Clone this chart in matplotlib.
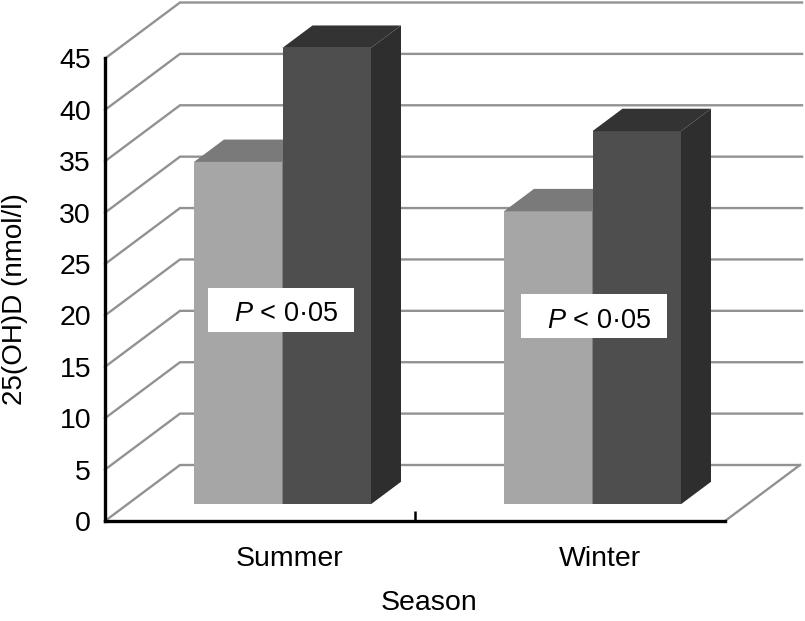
import matplotlib
matplotlib.use("Agg")
import matplotlib.pyplot as plt
from matplotlib.patches import Polygon, Rectangle

plt.rcParams['font.family'] = ['Liberation Sans', 'DejaVu Sans']
plt.rcParams['mathtext.fontset'] = 'custom'
plt.rcParams['mathtext.it'] = 'Liberation Sans:italic'
plt.rcParams['mathtext.rm'] = 'Liberation Sans'

categories = ['Summer', 'Winter']
light_values = [33.3, 28.5]
dark_values = [44.4, 36.3]
y_ticks = [0, 5, 10, 15, 20, 25, 30, 35, 40, 45]
x_label = 'Season'
y_label = '25(OH)D (nmol/l)'
note = r'$\mathit{P}$ < 0·05'

W, H = 805, 621
AX_L, AX_R, AX_B, AX_T = 105, 725, 521, 58.5
DX = 75 / 310
DY = 56 / ((AX_B - AX_T) / 45)
BAR_W = 88.5 / 310
FRONT, BACK = 0.30, 0.70

fig = plt.figure(figsize=(W / 100, H / 100), dpi=100, facecolor='white')
ax = fig.add_axes([AX_L / W, 1 - AX_B / H, (AX_R - AX_L) / W, (AX_B - AX_T) / H])
ax.set_xlim(0, 2)
ax.set_ylim(0, 45)
ax.patch.set_alpha(0)

GRID = '#929292'


def proj(x, y, d):
    return (x + d * DX, y + d * DY)


for v in y_ticks:
    p0 = proj(0, v, 0)
    p1 = proj(0, v, 1)
    p2 = proj(2 + (2 / 310 if v else 0), v, 1)
    ax.plot([p0[0], p1[0], p2[0]], [p0[1], p1[1], p2[1]], color=GRID, lw=1.7,
            clip_on=False, zorder=1, solid_joinstyle='miter')
p0, p1 = proj(2, 0, 0), proj(2, 0, 1)
ax.plot([p0[0], p1[0]], [p0[1], p1[1]], color=GRID, lw=1.7, clip_on=False, zorder=1)


def bar(x0, h, front, top, side, z):
    x1 = x0 + BAR_W
    ax.add_patch(Polygon([proj(x0, 0, FRONT), proj(x1, 0, FRONT), proj(x1, h, FRONT), proj(x0, h, FRONT)],
                         fc=front, ec='none', zorder=z, clip_on=False))
    ax.add_patch(Polygon([proj(x0, h, FRONT), proj(x1, h, FRONT), proj(x1, h, BACK), proj(x0, h, BACK)],
                         fc=top, ec='none', zorder=z, clip_on=False))
    ax.add_patch(Polygon([proj(x1, 0, FRONT), proj(x1, 0, BACK), proj(x1, h, BACK), proj(x1, h, FRONT)],
                         fc=side, ec='none', zorder=z, clip_on=False))


for i, (a, b) in enumerate(zip(light_values, dark_values)):
    c = i + 0.5
    bar(c - BAR_W, a, '#a6a6a6', '#7a7a7a', '#5a5a5a', 2)
    bar(c, b, '#4e4e4e', '#333333', '#2e2e2e', 3)

boxes = [(0.332, 18.4, 0.47, 4.3), (1.342, 17.8, 0.47, 4.3)]
for x, y, w, h in boxes:
    ax.add_patch(Rectangle((x, y), w, h, fc='white', ec='none', zorder=4))
    ax.text(x + w / 2 + 0.017, y + h / 2 - 0.45, note, ha='center', va='center', fontsize=19.5, zorder=5)

for s in ('top', 'right'):
    ax.spines[s].set_visible(False)
for s in ('left', 'bottom'):
    ax.spines[s].set_linewidth(2.4)
    ax.spines[s].set_color('black')
    ax.spines[s].set_zorder(6)

ax.set_yticks(y_ticks)
ax.tick_params(axis='y', length=0, pad=10, labelsize=20.5)
ax.set_xticks([i + 0.595 for i in range(len(categories))], categories)
ax.tick_params(axis='x', which='major', length=0, pad=18, labelsize=20.5)
ax.set_xticks([1], minor=True)
ax.tick_params(axis='x', which='minor', direction='in', length=7.5, width=1.8, color='black')

ax.set_xlabel(x_label, fontsize=20.5)
ax.xaxis.set_label_coords((429 - AX_L) / (AX_R - AX_L), -(603 - AX_B) / (AX_B - AX_T), transform=ax.transAxes)
ax.xaxis.label.set_va('center')
ax.set_ylabel(y_label, fontsize=20)
ax.yaxis.set_label_coords((15 - AX_L) / (AX_R - AX_L), (AX_B - 299) / (AX_B - AX_T), transform=ax.transAxes)
ax.yaxis.label.set_va('center')

fig.savefig('out.png', dpi=100)
